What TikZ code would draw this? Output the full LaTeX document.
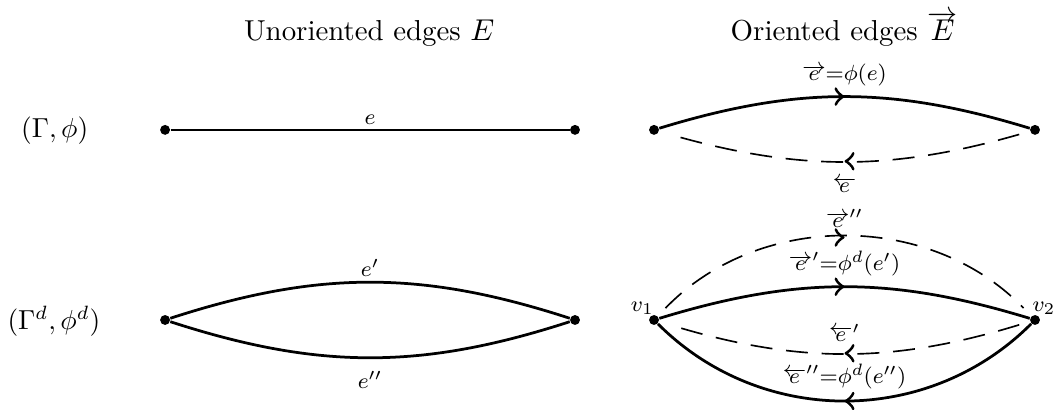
\documentclass[tikz,border=0pt]{standalone}
\usetikzlibrary{decorations.markings,positioning}

\begin{document}
\begin{tikzpicture}[
  vtx/.style={circle, fill, inner sep=0pt, minimum size=3.6pt},
  uedge/.style={line width=1pt},
  ghost/.style={dash pattern=on 8pt off 5pt, line width=0.6pt, shorten >=4pt, shorten <=4pt},
  midarrow/.style={postaction={decorate, decoration={markings, mark=at position 0.5 with {\arrow[scale=1.4, line width=0.8pt]{>}}}}},
  lbl/.style={font=\footnotesize, inner sep=1.5pt},
  head/.style={anchor=base, font=\fontsize{10.5pt}{13pt}\selectfont}
]
  \useasboundingbox (0,0) rectangle (13.46,5.24);

  % Column heads
  \node[head] (hu) at (4.72,4.72) {Unoriented edges $E$};
  \node[head] (ho) at (10.79,4.72) {Oriented edges $\overrightarrow{E}$};

  % Row heads
  \node (r1) at (0.70,3.57) {$(\Gamma,\phi)$};
  \node (r2) at (0.69,1.14) {$(\Gamma^d,\phi^d)$};

  % Vertices
  \node[vtx] (ua) at (2.11,3.58) {};
  \node[vtx] (ub) at (7.35,3.58) {};
  \node[vtx] (da) at (2.11,1.15) {};
  \node[vtx] (db) at (7.35,1.15) {};
  \node[vtx] (oa) at (8.36,3.58) {};
  \node[vtx] (ob) at (13.23,3.58) {};
  \node[vtx] (v1) at (8.36,1.15) {};
  \node[vtx] (v2) at (13.23,1.15) {};
  \node[lbl, inner sep=0pt, above left=0.5pt and -1.5pt of v1] (v1lbl) {$v_1$};
  \node[lbl, inner sep=0pt, above right=0.5pt and -2.5pt of v2] (v2lbl) {$v_2$};

  % Unoriented edges
  \draw[uedge] (ua) -- node[lbl, above] (le) {$e$} (ub);
  \draw[uedge] (da) to[bend left=18] node[lbl, above] (le1) {$e'$} (db);
  \draw[uedge] (da) to[bend right=18] node[lbl, below=3pt] (le2) {$e''$} (db);

  % Oriented edges
  \draw[uedge, midarrow] (oa) to[bend left=17] node[lbl, above=2pt] (lf) {$\overrightarrow{e}{=}\phi(e)$} (ob);
  \draw[ghost, midarrow] (ob) to[bend left=16] node[lbl, below=4pt] (lr) {$\overleftarrow{e}$} (oa);

  \draw[ghost, midarrow] (v1) to[bend left=46] node[lbl, above=2pt] (lf2) {$\overrightarrow{e}''$} (v2);
  \draw[uedge, midarrow] (v1) to[bend left=17] node[lbl, above=2pt] (lf1) {$\overrightarrow{e}'{=}\phi^d(e')$} (v2);
  \draw[ghost, midarrow] (v2) to[bend left=17] node[lbl, above=2.5pt] (lr1) {$\overleftarrow{e}'$} (v1);
  \draw[uedge, midarrow] (v2) to[bend left=45] node[lbl, above=2.5pt] (lr2) {$\overleftarrow{e}''{=}\phi^d(e'')$} (v1);
\end{tikzpicture}
\end{document}
